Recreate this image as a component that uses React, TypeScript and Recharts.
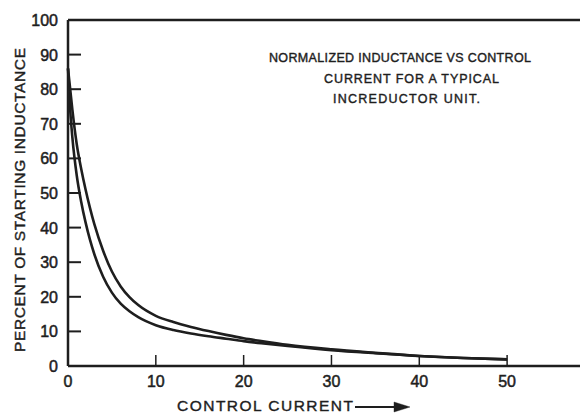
import React from "react";
import { LineChart, Line, XAxis, YAxis, ReferenceLine, Customized } from "recharts";

const currentValues = [0, 0.25, 0.5, 1, 1.5, 2, 2.5, 3, 4, 5, 6, 7, 8, 10, 12, 14, 16, 18, 20, 22, 25, 30, 35, 40, 45, 50];
const innerCurve = [86, 74, 66, 55, 47.5, 41.5, 36.5, 32.3, 25.8, 21.2, 18, 15.8, 14.1, 11.8, 10.4, 9.4, 8.6, 7.9, 7.2, 6.6, 5.8, 4.6, 3.7, 2.9, 2.3, 1.9];
const outerCurve = [86, 80, 74, 64, 57, 51, 45.7, 41, 33.3, 27.3, 23, 19.9, 17.6, 14.5, 12.7, 11.3, 10.1, 9, 8, 7.2, 6.1, 4.8, 3.8, 2.9, 2.3, 1.9];
const xTicks = [0, 10, 20, 30, 40, 50];
const yTicks = [0, 10, 20, 30, 40, 50, 60, 70, 80, 90, 100];
const noteLines = ["NORMALIZED INDUCTANCE VS CONTROL", "CURRENT FOR A TYPICAL", "INCREDUCTOR UNIT."];
const xTitle = "CONTROL CURRENT";
const yTitle = "PERCENT OF STARTING INDUCTANCE";

const data = currentValues.map((c, i) => ({ c, a: innerCurve[i], b: outerCurve[i] }));

const INK = "#1e1e1e";
const FONT = "'Liberation Sans', Arial, sans-serif";

const YTick = (props: any) => {
  const { x, y, payload } = props;
  const v = payload.value;
  return (
    <g>
      {v !== 0 && v !== 100 && <line x1={x} x2={x + 13} y1={y} y2={y} stroke={INK} strokeWidth={2} />}
      <text x={x - 10} y={y + 6} textAnchor="end" fontSize={16} fill={INK} stroke={INK} strokeWidth={0.5} fontFamily={FONT}>
        {v}
      </text>
    </g>
  );
};

const XTick = (props: any) => {
  const { x, y, payload } = props;
  const v = payload.value;
  return (
    <g>
      {v !== 0 && <line x1={x} x2={x} y1={y} y2={y - 11} stroke={INK} strokeWidth={1.5} />}
      <text x={x} y={y + 21} textAnchor="middle" fontSize={16} fill={INK} stroke={INK} strokeWidth={0.5} fontFamily={FONT}>
        {v}
      </text>
    </g>
  );
};

const Notes = () => (
  <g fontFamily={FONT} fill={INK} stroke={INK} strokeWidth={0.4}>
    <text x={269} y={62} fontSize={12.5} textLength={262} lengthAdjust="spacing">{noteLines[0]}</text>
    <text x={324} y={83} fontSize={12.5} textLength={175} lengthAdjust="spacing">{noteLines[1]}</text>
    <text x={333} y={103} fontSize={12.5} textLength={147} lengthAdjust="spacing">{noteLines[2]}</text>
    <text x={177} y={411} fontSize={15.5} textLength={176} lengthAdjust="spacing">{xTitle}</text>
    <line x1={355} x2={398} y1={407} y2={407} stroke={INK} strokeWidth={2} />
    <polygon points="394,402 410,407 394,412" fill={INK} />
    <text
      x={0}
      y={0}
      fontSize={15.5}
      transform="translate(25,352) rotate(-90)"
      textLength={304}
      lengthAdjust="spacing"
    >
      {yTitle}
    </text>
  </g>
);

export default function App() {
  return (
    <div style={{ position: "absolute", left: 0, top: 0, width: 580, height: 414, background: "#fff" }}>
      <LineChart width={580} height={414} data={data} margin={{ top: 20, right: 0, left: 0, bottom: 0 }}>
        <XAxis
          dataKey="c"
          type="number"
          domain={[0, 58.3]}
          ticks={xTicks}
          height={48}
          tickSize={0}
          tickMargin={0}
          tickLine={false}
          axisLine={{ stroke: INK, strokeWidth: 2.5 }}
          tick={<XTick />}
          interval={0}
        />
        <YAxis
          type="number"
          domain={[0, 100]}
          ticks={yTicks}
          width={68}
          tickSize={0}
          tickMargin={0}
          tickLine={false}
          axisLine={{ stroke: INK, strokeWidth: 2.5 }}
          tick={<YTick />}
          interval={0}
        />
        <ReferenceLine y={100} stroke={INK} strokeWidth={2.5} ifOverflow="visible" />
        <Line type="monotone" dataKey="a" stroke={INK} strokeWidth={2.6} dot={false} isAnimationActive={false} />
        <Line type="monotone" dataKey="b" stroke={INK} strokeWidth={2.6} dot={false} isAnimationActive={false} />
        <Customized component={<Notes />} />
      </LineChart>
    </div>
  );
}
